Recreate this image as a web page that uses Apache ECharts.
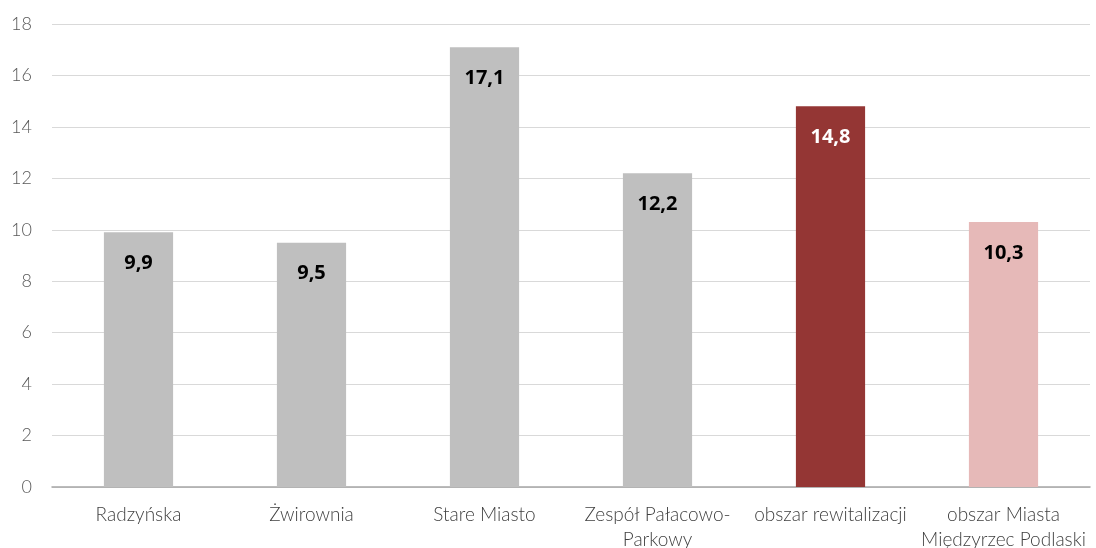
<!DOCTYPE html>
<html>
<head>
<meta charset="utf-8">
<script src="https://cdn.jsdelivr.net/npm/echarts@6/dist/echarts.min.js"></script>
<style>html,body{margin:0;padding:0;background:#fff}#c{width:1096px;height:548px}</style>
</head>
<body>
<div id="c"></div>
<script>
const categories = ["Radzyńska", "Żwirownia", "Stare Miasto", "Zespół Pałacowo-\nParkowy", "obszar rewitalizacji", "obszar Miasta\nMiędzyrzec Podlaski"];
const values = [9.9, 9.5, 17.1, 12.2, 14.8, 10.3];
const barColors = ["#BFBFBF", "#BFBFBF", "#BFBFBF", "#BFBFBF", "#943634", "#E6B9B8"];
const labelColors = ["#000000", "#000000", "#000000", "#000000", "#FFFFFF", "#000000"];
const yTicks = {min: 0, max: 18, interval: 2};

const chart = echarts.init(document.getElementById('c'), null, {renderer: 'canvas'});
chart.setOption({
  animation: false,
  grid: {left: 52, right: 6, top: 24, bottom: 61, containLabel: false, outerBoundsMode: 'none'},
  xAxis: {
    type: 'category',
    data: categories,
    axisTick: {show: false},
    axisLine: {lineStyle: {color: '#A6A6A6', width: 1.5}},
    axisLabel: {color: '#404040', fontSize: 19, fontWeight: 300, fontFamily: 'Lato', margin: 15, lineHeight: 25, interval: 0}
  },
  yAxis: {
    type: 'value',
    min: yTicks.min, max: yTicks.max, interval: yTicks.interval,
    axisLine: {show: false},
    axisTick: {show: false},
    splitLine: {lineStyle: {color: '#D9D9D9', width: 1.2}},
    axisLabel: {color: '#595959', fontSize: 18, fontWeight: 300, fontFamily: 'Lato', margin: 20}
  },
  series: [{
    type: 'bar',
    barWidth: '40%',
    data: values.map((v, i) => ({
      value: v,
      itemStyle: {color: barColors[i]},
      label: {color: labelColors[i]}
    })),
    label: {
      show: true,
      position: 'insideTop',
      distance: 21,
      fontSize: 20,
      fontWeight: 'bold',
      fontFamily: 'Open Sans',
      formatter: p => p.value.toFixed(1).replace('.', ',')
    }
  }]
});
</script>
</body>
</html>
